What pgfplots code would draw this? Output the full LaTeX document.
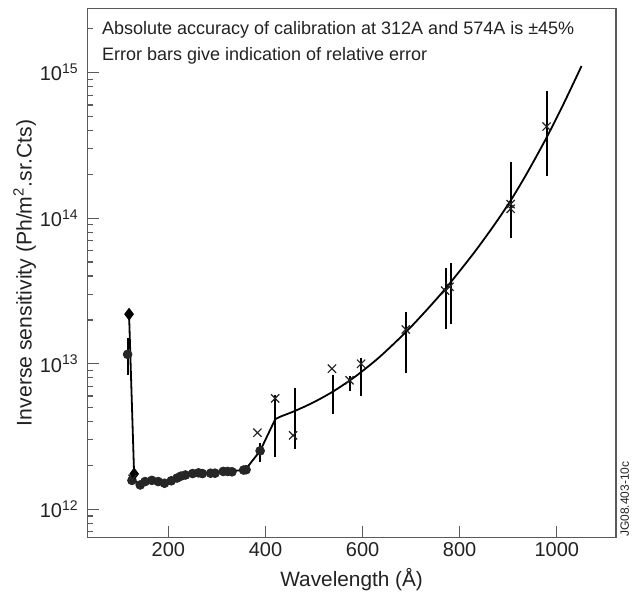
\documentclass[border=0pt]{standalone}
\usepackage{fontspec}
\setmainfont{Liberation Sans}
\usepackage{pgfplots}
\pgfplotsset{compat=1.18}
\definecolor{txt}{HTML}{222222}
\definecolor{axc}{HTML}{5A5A5A}
\definecolor{dot}{HTML}{262626}

\begin{document}
\begin{tikzpicture}
\begin{semilogyaxis}[
  scale only axis,
  width=264.35pt, height=264.3pt,
  xmin=33, xmax=1122,
  ymin=6.42e11, ymax=2.75e15,
  axis line style={axc, line width=0.6pt},
  tick style={axc, line width=0.6pt},
  tick align=inside,
  xtick pos=bottom, ytick pos=left,
  major tick length=5.8pt, minor tick length=2.7pt,
  xtick={200,400,600,800,1000},
  xticklabels={200,400,600,800,1000},
  ytick={1e12,1e13,1e14,1e15},
  yticklabels={10\textsuperscript{12},10\textsuperscript{13},10\textsuperscript{14},10\textsuperscript{15}},
  minor ytick={7e11,8e11,9e11,2e12,3e12,4e12,5e12,6e12,7e12,8e12,9e12,2e13,3e13,4e13,5e13,6e13,7e13,8e13,9e13,2e14,3e14,4e14,5e14,6e14,7e14,8e14,9e14,2e15},
  ticklabel style={font=\fontsize{10}{12}\selectfont, text=txt},
  xticklabel style={anchor=base, inner sep=0pt, yshift=-9.7pt},
  yticklabel style={anchor=east, inner sep=0pt, xshift=-4.15pt},
  xlabel={Wavelength (Å)},
  ylabel={Inverse sensitivity (Ph/m\textsuperscript{2}.sr.Cts)},
  every axis x label/.style={at={(rel axis cs:0.5,-0.0934)}, anchor=base, font=\fontsize{10.4}{12}\selectfont, text=txt, inner sep=0pt},
  every axis y label/.style={at={(rel axis cs:-0.1052,0.5)}, anchor=base, rotate=90, font=\fontsize{10.6}{12}\selectfont, text=txt, inner sep=0pt},
  clip=false,
]
% calibration curve: measured section
\addplot[black, line width=0.9pt, mark=none] coordinates {
  (119,2.19e13) (129.4,1.75e12) (126,1.60e12) (142,1.47e12) (152,1.55e12)
  (166,1.58e12) (179,1.55e12) (192,1.51e12) (206,1.57e12) (226,1.69e12)
  (250,1.76e12) (287,1.77e12) (313,1.82e12) (358,1.86e12) (389,2.52e12)
  (420,4.15e12)
};
% fitted section
\addplot[black, line width=0.9pt, mark=none, smooth] coordinates {
  (420,4.15e12) (430,4.32e12) (460,4.73e12) (499,5.43e12) (539,6.44e12)
  (574,7.69e12) (596,8.71e12) (636,1.12e13) (690,1.66e13) (732,2.34e13)
  (773,3.35e13) (828,5.70e13) (869,8.77e13) (904,1.306e14) (938,2.02e14)
  (979,3.58e14) (1014,6.10e14) (1051,1.11e15)
};
% error bars
\addplot[black, line width=1pt, mark=none, unbounded coords=jump] coordinates {
  (117,8.4e12) (117,1.51e13) (117,nan)
  (389,2.12e12) (389,2.84e12) (389,nan)
  (420,2.3e12) (420,6.1e12) (420,nan)
  (460,2.6e12) (460,6.78e12) (460,nan)
  (539,4.5e12) (539,8.35e12) (539,nan)
  (574,6.5e12) (574,8.3e12) (574,nan)
  (596,6.0e12) (596,1.1e13) (596,nan)
  (690,8.6e12) (690,2.25e13) (690,nan)
  (772,1.72e13) (772,4.53e13) (772,nan)
  (782,1.88e13) (782,4.94e13) (782,nan)
  (905,7.35e13) (905,2.44e14) (905,nan)
  (979,1.96e14) (979,7.5e14)
};
% circles
\addplot[only marks, mark=*, mark size=2.2pt, mark options={fill=dot, draw=dot}] coordinates {
  (116,1.16e13) (125,1.58e12) (142,1.47e12) (152,1.55e12) (166,1.58e12)
  (179,1.55e12) (192,1.51e12) (206,1.57e12) (218,1.64e12) (226,1.69e12)
  (235,1.72e12) (250,1.76e12) (262,1.78e12) (270,1.76e12) (287,1.77e12)
  (296,1.77e12) (313,1.82e12) (322,1.82e12) (331,1.81e12) (355,1.86e12)
  (360,1.87e12) (389,2.52e12)
};
% diamonds
\addplot[only marks, mark=diamond*, mark size=2.9pt, mark options={fill=black, draw=black}] coordinates {
  (119,2.19e13) (129.4,1.75e12)
};
% crosses
\addplot[only marks, mark=x, mark size=2.9pt, mark options={draw=txt, line width=0.6pt}] coordinates {
  (126,1.62e12) (383.5,3.36e12) (420,5.78e12) (457,3.22e12) (537,9.25e12)
  (573,7.7e12) (597,1.0e13) (689,1.72e13) (770,3.18e13) (779,3.38e13)
  (905,1.25e14) (905,1.16e14) (979,4.26e14)
};
\node[anchor=base west, inner sep=0pt, font=\fontsize{9}{11}\selectfont, text=txt]
  at ([xshift=7.2pt,yshift=-13.15pt]rel axis cs:0,1) {Absolute accuracy of calibration at 312A and 574A is ±45\%};
\node[anchor=base west, inner sep=0pt, font=\fontsize{9}{11}\selectfont, text=txt]
  at ([xshift=7.2pt,yshift=-26pt]rel axis cs:0,1) {Error bars give indication of relative error};
\node[rotate=90, anchor=north west, inner sep=0pt, font=\fontsize{6}{7}\selectfont, text=txt]
  at ([xshift=2pt]rel axis cs:1,0) {JG08.403-10c};
\end{semilogyaxis}
\pgfresetboundingbox
\path (current axis.south west) ++(-43.65pt,-28.35pt);
\path (current axis.north east) ++(9.5pt,4.35pt);
\end{tikzpicture}
\end{document}
